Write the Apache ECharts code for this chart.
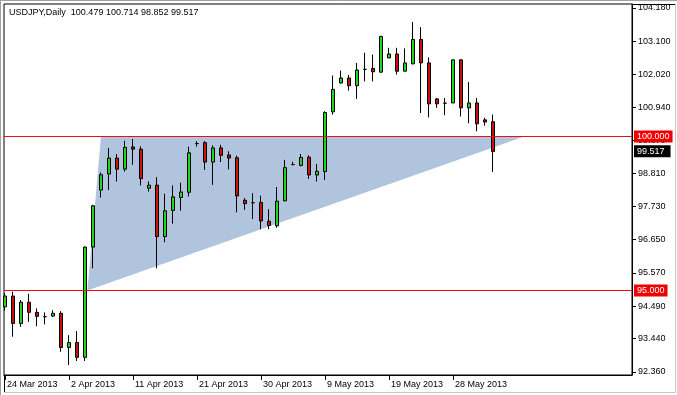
<!DOCTYPE html>
<html><head><meta charset="utf-8">
<script src="https://cdn.jsdelivr.net/npm/echarts@6/dist/echarts.min.js"></script>
<style>html,body{margin:0;padding:0;background:#fff}#c{width:677px;height:395px}</style>
</head><body><div id="c"></div>
<script>
const dates = ['24 Mar 2013','25 Mar 2013','26 Mar 2013','27 Mar 2013','28 Mar 2013','29 Mar 2013','31 Mar 2013','1 Apr 2013',
'2 Apr 2013','3 Apr 2013','4 Apr 2013','5 Apr 2013','7 Apr 2013','8 Apr 2013','9 Apr 2013','10 Apr 2013',
'11 Apr 2013','12 Apr 2013','14 Apr 2013','15 Apr 2013','16 Apr 2013','17 Apr 2013','18 Apr 2013','19 Apr 2013',
'21 Apr 2013','22 Apr 2013','23 Apr 2013','24 Apr 2013','25 Apr 2013','26 Apr 2013','28 Apr 2013','29 Apr 2013',
'30 Apr 2013','1 May 2013','2 May 2013','3 May 2013','5 May 2013','6 May 2013','7 May 2013','8 May 2013',
'9 May 2013','10 May 2013','12 May 2013','13 May 2013','14 May 2013','15 May 2013','16 May 2013','17 May 2013',
'19 May 2013','20 May 2013','21 May 2013','22 May 2013','23 May 2013','24 May 2013','26 May 2013','27 May 2013',
'28 May 2013','29 May 2013','30 May 2013','31 May 2013','2 Jun 2013','3 Jun 2013'];
const openV  = [94.47,94.82,93.93,94.62,94.29,94.15,94.17,94.26,93.15,93.31,92.83,96.41,98.26,98.78,99.30,98.94,
99.66,99.59,98.32,98.42,96.75,97.60,98.02,98.19,99.77,99.80,99.17,99.63,99.40,99.31,97.93,97.85,
97.86,97.25,97.10,97.91,99.09,99.06,99.33,98.75,98.86,100.80,101.74,101.90,101.65,102.18,102.21,102.09,
102.55,102.68,102.12,102.36,103.15,102.39,101.22,101.08,101.09,102.49,100.93,101.09,100.54,100.479];
const closeV = [94.82,93.93,94.62,94.29,94.16,94.15,94.26,93.15,93.31,92.83,96.41,97.75,98.76,99.30,98.94,99.65,
99.59,98.63,98.42,96.75,97.59,98.04,98.20,99.47,99.77,99.17,99.63,99.39,99.30,98.07,97.82,97.85,
97.26,97.11,97.90,98.99,99.09,99.32,98.75,98.87,100.78,101.53,101.90,101.65,102.16,102.18,102.10,103.25,
102.68,102.12,102.39,103.15,102.39,101.06,101.06,101.08,102.49,100.93,101.09,100.41,100.47,99.517];
const lowV   = [94.35,93.50,93.82,93.98,93.84,93.90,94.14,93.01,92.58,92.71,92.71,95.72,98.02,98.26,98.54,98.86,
99.08,98.41,98.21,95.72,96.57,97.17,97.59,98.05,99.67,98.92,98.43,99.17,98.93,97.54,97.62,97.32,
96.99,96.99,97.04,97.90,99.06,99.03,98.62,98.54,98.59,100.71,101.72,101.49,101.22,101.79,101.79,102.07,
102.55,102.01,102.12,102.34,100.76,100.62,100.93,100.69,101.09,100.65,100.43,100.17,100.35,98.852];
const highV  = [94.92,94.96,94.69,94.89,94.42,94.29,94.36,94.33,93.55,93.68,96.43,97.78,98.83,99.63,99.43,99.86,
99.92,99.68,98.54,98.68,98.14,98.41,98.50,99.67,99.85,99.85,99.71,99.73,99.52,99.38,98.00,98.16,
98.08,97.64,98.36,99.24,99.18,99.43,99.39,99.11,100.82,101.98,102.14,102.00,102.39,102.72,102.66,103.27,
102.88,102.88,102.86,103.72,103.55,102.57,101.25,101.25,102.49,102.49,101.77,101.25,100.61,100.714];
const yTickValues = [104.18,103.10,102.02,100.94,99.87,98.81,97.73,96.65,95.57,94.49,93.44,92.36];
const xTickIndex = [0,8,16,24,32,40,48,56];
const levelLines = [100.0, 95.0];
const lastPrice = 99.517;
const triangleX = [10.3, 12.0, 64.9];
const triangleY = [95.0, 100.0, 100.0];
const headerText = 'USDJPY,Daily  100.479 100.714 98.852 99.517';

const FONT = '"Liberation Sans", Arial, sans-serif';
const chart = echarts.init(document.getElementById('c'), null, {renderer:'canvas'});

const markData = levelLines.map(v => ({
  yAxis: v,
  lineStyle: {color:'#E81010', width:1, type:'solid'},
  label: {show:true, position:'end', distance:2, formatter: () => v.toFixed(3),
    color:'#fff', backgroundColor:'#EE0000', padding:[2,3,1,3], fontSize:9, fontFamily:FONT}
}));
markData.push({
  yAxis: lastPrice,
  lineStyle: {color:'rgba(0,0,0,0)', width:0},
  label: {show:true, position:'end', distance:2, formatter: () => lastPrice.toFixed(3),
    color:'#fff', backgroundColor:'#000', padding:[2,6,1,3], fontSize:9, fontFamily:FONT}
});

const option = {
  animation:false,
  backgroundColor:'#fff',
  grid:{left:4, top:4, right:45, bottom:20, show:true, borderColor:'#000', borderWidth:1, backgroundColor:'#fff'},
  xAxis:{type:'value', min:-0.125, max:78.375, splitLine:{show:false},
    axisLine:{show:true, onZero:false, lineStyle:{color:'#000', width:1}},
    axisTick:{show:true, customValues:xTickIndex, length:5, lineStyle:{color:'#000'}},
    axisLabel:{show:true, customValues:xTickIndex, formatter: v => dates[Math.round(v)] || '',
      align:'left', margin:5, padding:[0,0,0,2], color:'#000', fontSize:9, fontFamily:FONT}
  },
  yAxis:{type:'value', position:'right', min:92.2565, max:104.3019, scale:true, splitLine:{show:false},
    axisLine:{show:true, onZero:false, lineStyle:{color:'#000', width:1}},
    axisTick:{show:true, customValues:yTickValues, length:4, lineStyle:{color:'#000'}},
    axisLabel:{show:true, customValues:yTickValues, formatter: v => v.toFixed(3),
      margin:6, color:'#000', fontSize:9, fontFamily:FONT}
  },
  series:[
    {type:'custom', z:1, silent:true, clip:true,
      data: triangleX.map((x,i)=>[x, triangleY[i]]),
      encode:{x:0, y:1},
      renderItem:(params, api) => {
        if (params.dataIndex !== 0) return null;
        const pts = triangleX.map((x,i)=>api.coord([x, triangleY[i]]));
        return {type:'polygon', shape:{points:pts}, style:{fill:'#B0C4DE', stroke:null}};
      }
    },
    {type:'candlestick', z:3, silent:true,
      data: dates.map((d,i)=>[i, openV[i], closeV[i], lowV[i], highV[i]]),
      encode:{x:0, y:[1,2,3,4]},
      barWidth:4,
      itemStyle:{color:'#1ED81E', color0:'#CC1010', borderColor:'#000', borderColor0:'#000', borderColorDoji:'#000', borderWidth:1},
      markLine:{symbol:'none', silent:true, animation:false, data: markData}
    }
  ],
  graphic:[
    {type:'text', z:10, style:{text:headerText, x:9, y:13, verticalAlign:'middle', fill:'#000', font:'9px ' + FONT}},
    {type:'line', z:10, shape:{x1:632, y1:4.5, x2:676, y2:4.5}, style:{stroke:'#000', lineWidth:1}},
    {type:'line', z:10, shape:{x1:4.5, y1:375, x2:4.5, y2:392}, style:{stroke:'#000', lineWidth:1}},
    {type:'line', z:10, shape:{x1:4, y1:392.5, x2:676, y2:392.5}, style:{stroke:'#C8C8C8', lineWidth:1}},
    {type:'line', z:10, shape:{x1:675.5, y1:4, x2:675.5, y2:393}, style:{stroke:'#C8C8C8', lineWidth:1}},
    {type:'line', z:10, shape:{x1:0.5, y1:0, x2:0.5, y2:395}, style:{stroke:'#A0A0A0', lineWidth:1}},
    {type:'line', z:10, shape:{x1:0, y1:0.5, x2:677, y2:0.5}, style:{stroke:'#A0A0A0', lineWidth:1}}
  ]
};
chart.setOption(option);
</script></body></html>
